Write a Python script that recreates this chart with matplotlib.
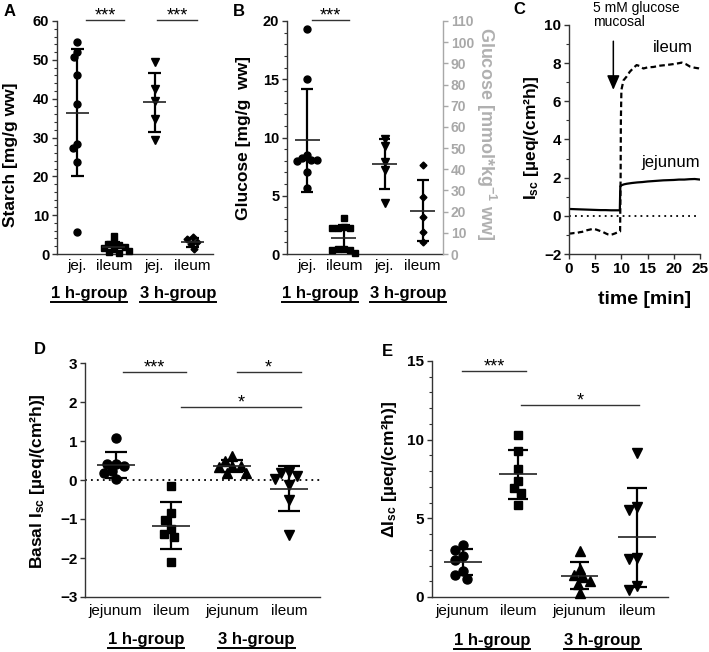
import numpy as np
import matplotlib
matplotlib.use('Agg')
import matplotlib.pyplot as plt
from matplotlib.lines import Line2D
from matplotlib.ticker import MultipleLocator, AutoMinorLocator

plt.rcParams['font.family'] = ['Liberation Sans', 'DejaVu Sans']
plt.rcParams['mathtext.fontset'] = 'custom'
plt.rcParams['mathtext.rm'] = 'Liberation Sans'
plt.rcParams['mathtext.bf'] = 'Liberation Sans:bold'
plt.rcParams['mathtext.it'] = 'Liberation Sans:italic'

# ---- data ----
CATS_SHORT = ['jej.', 'ileum', 'jej.', 'ileum']
CATS_LONG = ['jejunum', 'ileum', 'jejunum', 'ileum']
GROUPS = ['1 h-group', '3 h-group']

# A: starch [mg/g ww]
starch_jej_1h = [54.7, 52.1, 50.8, 46.1, 38.6, 28.3, 27.2, 23.8, 5.6]
starch_ile_1h = [4.7, 3.0, 2.5, 2.2, 1.9, 1.5, 1.2, 0.8, 0.5, 0.3]
starch_jej_3h = [49.5, 42.5, 39.3, 34.8, 29.4]
starch_ile_3h = [4.3, 3.8, 3.2, 2.6, 1.2]

# B: glucose [mg/g ww]
gluc_jej_1h = [19.3, 15.0, 8.5, 8.2, 8.1, 8.05, 7.95, 7.0, 5.7]
gluc_ile_1h = [3.1, 2.3, 2.2, 2.2, 2.2, 0.4, 0.4, 0.35, 0.35, 0.1]
gluc_jej_3h = [9.85, 9.27, 7.92, 7.2, 4.4]
gluc_ile_3h = [7.64, 4.9, 3.2, 1.86, 1.06]

# C: Isc traces
time_jej = [0, 1, 2, 3, 4, 5, 6, 7, 8, 9, 9.7, 9.75, 9.8, 10.0, 10.5, 11, 12,
            13, 14, 15, 16, 17, 18, 19, 20, 21, 22, 23, 24, 25]
isc_jej = [0.36, 0.35, 0.34, 0.33, 0.32, 0.31, 0.3, 0.3, 0.29, 0.29, 0.29, 1.0,
           1.55, 1.6, 1.65, 1.68, 1.72, 1.75, 1.77, 1.8, 1.82, 1.84, 1.86,
           1.87, 1.88, 1.9, 1.9, 1.92, 1.93, 1.9]
time_ile = [0, 0.5, 1, 1.5, 2, 2.5, 3, 3.5, 4, 4.6, 5.2, 5.8, 6.5, 7.0, 7.5,
            7.8, 8.3, 8.8, 9.4, 9.75, 9.85, 9.9, 10.0, 10.4, 11.0, 11.6, 12.3,
            12.9, 13.5, 14.2, 15.0, 16.1, 17.0, 17.4, 18.5, 19.9, 21.0, 21.5,
            22.3, 23.1, 24.0, 24.7, 25]
isc_ile = [-0.93, -0.92, -0.9, -0.9, -0.86, -0.84, -0.8, -0.75, -0.72, -0.68,
           -0.72, -0.78, -0.85, -0.92, -0.98, -1.0, -0.97, -0.92, -0.85, -0.82,
           2.0, 5.0, 6.6, 7.1, 7.3, 7.55, 7.75, 7.9, 7.85, 7.72, 7.78, 7.8,
           7.85, 7.87, 7.9, 7.95, 8.0, 8.03, 7.95, 7.82, 7.76, 7.73, 7.7]

# D: basal Isc
basal_jej_1h = [1.07, 0.42, 0.40, 0.35, 0.22, 0.17, 0.03]
basal_ile_1h = [-0.15, -0.85, -1.02, -1.26, -1.38, -1.46, -2.11]
basal_jej_3h = [0.62, 0.48, 0.35, 0.35, 0.33, 0.18, 0.18]
basal_ile_3h = [0.20, 0.18, 0.10, 0.03, -0.12, -0.52, -1.40]

# E: delta Isc
delta_jej_1h = [3.28, 3.0, 2.58, 2.37, 1.65, 1.38, 1.17]
delta_ile_1h = [10.3, 9.26, 8.16, 7.4, 6.93, 6.6, 5.87]
delta_jej_3h = [2.9, 1.8, 1.4, 1.3, 1.0, 0.85, 0.25]
delta_ile_3h = [9.15, 5.72, 5.55, 2.5, 2.44, 0.68, 0.47]

# ---- layout ----
W, H = 709, 652
POS = [0.13, 0.365, 0.625, 0.87]
fig = plt.figure(figsize=(W / 100, H / 100), dpi=100)


def add_ax(l, t, r, b):
    return fig.add_axes([l / W, 1 - b / H, (r - l) / W, (b - t) / H])


def style(ax, size=10.5):
    for s in ['top', 'right']:
        ax.spines[s].set_visible(False)
    for s in ['left', 'bottom']:
        ax.spines[s].set_color('#333333')
        ax.spines[s].set_linewidth(1.0)
    ax.tick_params(axis='y', which='major', length=3.5, width=1.0,
                   color='#333333', labelsize=size, pad=2)
    ax.tick_params(axis='y', which='minor', length=2.5, width=0.8,
                   color='#333333')
    for lab in ax.get_yticklabels():
        lab.set_fontweight('bold')


def beeswarm(ax, xc, vals, d):
    pts = ax.transData.transform(np.column_stack([np.full(len(vals), xc), vals]))
    x0 = pts[0, 0]
    ys = pts[:, 1]
    xs = np.zeros(len(vals))
    placed = []
    for i in np.argsort(-ys):
        iv = []
        for px, py in placed:
            dy = abs(py - ys[i])
            if dy < d:
                w = np.sqrt(d * d - dy * dy)
                iv.append((px - w, px + w))
        cands = [x0] + [a for a, b in iv] + [b for a, b in iv]
        ok = [c for c in cands if all(not (a + 1e-6 < c < b - 1e-6) for a, b in iv)]
        best = min(ok, key=lambda c: abs(c - x0))
        xs[i] = best
        placed.append((best, ys[i]))
    return ax.transData.inverted().transform(np.column_stack([xs, ys]))[:, 0]


def dots(ax, groups, markers, sizes, d, mean_hw, cap_hw):
    for xc, vals, mk, ms in zip(POS, groups, markers, sizes):
        xs = beeswarm(ax, xc, vals, d)
        ax.plot(xs, vals, ls='none', marker=mk, ms=ms, color='black',
                mec='black', clip_on=False, zorder=3)
        m = np.mean(vals)
        s = np.std(vals, ddof=1)
        ax.vlines(xc, m - s, m + s, color='black', lw=1.6, zorder=4)
        ax.hlines([m - s, m + s], xc - cap_hw, xc + cap_hw, color='black',
                  lw=1.6, zorder=4)
        ax.hlines(m, xc - mean_hw, xc + mean_hw, color='#222222', lw=1.2, zorder=4)


def cats(ax, labels, pad):
    ax.set_xlim(0, 1)
    ax.set_xticks(POS, labels, fontsize=11)
    ax.tick_params(axis='x', length=0, pad=pad)


def sig(ax, bars):
    for x1, x2, y, lab in bars:
        ax.plot([x1, x2], [y, y], color='#333333', lw=1.0, clip_on=False)
        ax.text((x1 + x2) / 2, y, lab, ha='center', va='baseline',
                fontsize=13, clip_on=False)


def group_labels(centers, base):
    r = fig.canvas.get_renderer()
    for cx, txt in zip(centers, GROUPS):
        t = fig.text(cx / W, 1 - base / H, txt, ha='center', va='baseline',
                     fontsize=12, fontweight='bold')
        bb = t.get_window_extent(renderer=r)
        yl = (H - base - 3.5) / H
        fig.add_artist(Line2D([bb.x0 / W, bb.x1 / W], [yl, yl],
                              color='black', lw=1.4))


def ylabel(ax, text, xf, yf, size=12.5, **kw):
    ax.set_ylabel(text, fontsize=size, fontweight='bold', **kw)
    ax.yaxis.label.set_va('center')
    ax.yaxis.set_label_coords(xf, yf)


# ---- A ----
axA = add_ax(57, 21, 213, 254)
axA.set_ylim(0, 60)
axA.yaxis.set_major_locator(MultipleLocator(10))
axA.yaxis.set_minor_locator(AutoMinorLocator(5))
cats(axA, CATS_SHORT, 3.5)
style(axA)
dots(axA, [starch_jej_1h, starch_ile_1h, starch_jej_3h, starch_ile_3h],
     ['o', 's', 'v', 'D'], [5, 5, 5.5, 3.5], 6, 0.074, 0.042)
sig(axA, [(0.186, 0.43, 60.2, '***'), (0.64, 0.90, 60.2, '***')])
ylabel(axA, 'Starch [mg/g ww]', -0.30, 0.425)
group_labels([89, 178], 298)

# ---- B ----
axB = add_ax(287, 21, 443, 254)
axB.set_ylim(0, 20)
axB.yaxis.set_major_locator(MultipleLocator(5))
axB.yaxis.set_minor_locator(AutoMinorLocator(5))
cats(axB, CATS_SHORT, 3.5)
style(axB)
dots(axB, [gluc_jej_1h, gluc_ile_1h, gluc_jej_3h, gluc_ile_3h],
     ['o', 's', 'v', 'D'], [5, 5, 5.5, 3.5], 6, 0.08, 0.038)
sig(axB, [(0.158, 0.397, 20.07, '***')])
ylabel(axB, 'Glucose [mg/g  ww]', -0.28, 0.496)
group_labels([320, 408], 298)
axB2 = axB.twinx()
axB2.set_ylim(0, 110)
axB2.yaxis.set_major_locator(MultipleLocator(10))
for s in ['top', 'left', 'bottom']:
    axB2.spines[s].set_visible(False)
axB2.spines['right'].set_color('#a8a8a8')
axB2.spines['right'].set_linewidth(1.0)
axB2.tick_params(axis='y', length=3.5, width=1.0, color='#a8a8a8',
                 labelcolor='#a8a8a8', labelsize=10, pad=2)
for lab in axB2.get_yticklabels():
    lab.set_fontweight('bold')
axB2.set_ylabel('Glucose [mmol*kg$^{\\mathbf{-1}}$ ww]', fontsize=13,
                fontweight='bold', color='#b0b0b0', rotation=270)
axB2.yaxis.label.set_va('center')
axB2.yaxis.set_label_coords(1.275, 0.515)

# ---- C ----
axC = add_ax(569, 25, 700, 254)
axC.set_xlim(0, 25)
axC.set_ylim(-2, 10)
axC.yaxis.set_major_locator(MultipleLocator(2))
axC.yaxis.set_minor_locator(AutoMinorLocator(2))
axC.xaxis.set_major_locator(MultipleLocator(5))
style(axC, size=11)
axC.tick_params(axis='x', length=3.5, width=1.0, color='#333333',
                labelsize=11, pad=2)
for lab in axC.get_xticklabels():
    lab.set_fontweight('bold')
axC.axhline(0, color='black', lw=1.3, ls=(0, (1, 2.3)))
axC.plot(time_jej, isc_jej, color='black', lw=1.6)
axC.plot(time_ile, isc_ile, color='black', lw=1.6, ls=(0, (2.5, 1.5)))
axC.annotate('', xy=(8.46, 6.6), xytext=(8.46, 9.15),
             arrowprops=dict(arrowstyle='-|>,head_length=0.62,head_width=0.27',
                             mutation_scale=14, color='black', lw=1.1,
                             shrinkA=0, shrinkB=0))
axC.text(4.6, 9.97, '5 mM glucose\nmucosal', fontsize=10, ha='left',
         va='baseline', linespacing=0.92, clip_on=False)
axC.text(19.85, 8.6, 'ileum', fontsize=12, ha='center', va='baseline')
axC.text(19.4, 2.57, 'jejunum', fontsize=12, ha='center', va='baseline')
ylabel(axC, '$\\mathbf{I_{sc}}$ [µeq/(cm²h)]', -0.29, 0.509)
axC.set_xlabel('time [min]', fontsize=14, fontweight='bold')
axC.xaxis.label.set_va('center')
axC.xaxis.set_label_coords(0.58, -0.2)

# ---- D ----
axD = add_ax(85, 363, 320, 597)
axD.set_ylim(-3, 3)
axD.yaxis.set_major_locator(MultipleLocator(1))
cats(axD, CATS_LONG, 5)
style(axD, size=11)
axD.axhline(0, color='black', lw=1.3, ls=(0, (1, 2.3)), zorder=1)
dots(axD, [basal_jej_1h, basal_ile_1h, basal_jej_3h, basal_ile_3h],
     ['o', 's', '^', 'v'], [6.5, 6, 6.5, 6.5], 8.5, 0.081, 0.047)
sig(axD, [(0.16, 0.43, 2.76, '***'), (0.645, 0.918, 2.76, '*'),
          (0.41, 0.918, 1.86, '*')])
ylabel(axD, 'Basal $\\mathbf{I_{sc}}$ [µeq/(cm²h)]', -0.20, 0.496)
group_labels([146, 256.5], 644)

# ---- E ----
axE = add_ax(432, 361, 668, 597)
axE.set_ylim(0, 15)
axE.yaxis.set_major_locator(MultipleLocator(5))
axE.yaxis.set_minor_locator(AutoMinorLocator(5))
cats(axE, CATS_LONG, 5)
style(axE, size=11)
dots(axE, [delta_jej_1h, delta_ile_1h, delta_jej_3h, delta_ile_3h],
     ['o', 's', '^', 'v'], [6.5, 6, 6.5, 6.5], 8.5, 0.08, 0.042)
sig(axE, [(0.128, 0.397, 14.34, '***'), (0.376, 0.877, 12.18, '*')])
ylabel(axE, 'Δ$\\mathbf{I_{sc}}$ [µeq/(cm²h)]', -0.178, 0.54)
group_labels([492, 602.5], 645)

# panel letters
for lx, ly, letter in [(4, 4, 'A'), (233, 4, 'B'), (513, 2, 'C'),
                       (34, 342, 'D'), (382, 344, 'E')]:
    fig.text(lx / W, 1 - ly / H, letter, fontsize=12, fontweight='bold',
             ha='left', va='top')

fig.savefig('out.png', dpi=100)
